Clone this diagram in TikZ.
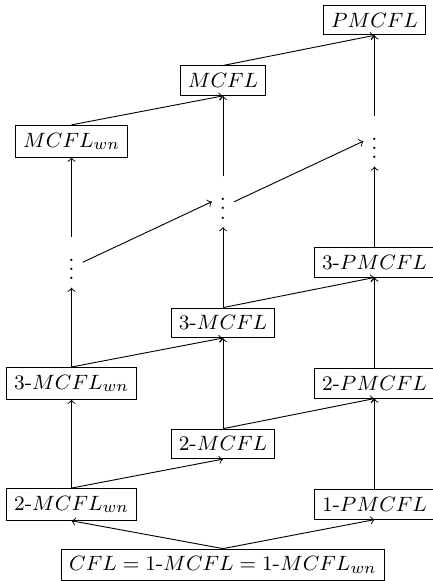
\documentclass[tikz,border=0pt]{standalone}
\usepackage{amsmath,amssymb}
\usepackage{tikz}
\usetikzlibrary{arrows}
\tikzset{
    >=to,
    langbox/.style={shape=rectangle, draw},
    vdotsnode/.style={shape=rectangle},
    font={\fontsize{9.3pt}{11}\selectfont},
}

\begin{document}
\begin{tikzpicture}
[
    x=2.315cm, y=0.925cm,
    every node/.style={langbox},
]
\useasboundingbox (-1.472,-0.265) rectangle (1.386,9.333);
\node(cfl) at (0,0){$CFL = 1\text{-}MCFL = 1\text{-}MCFL_{wn}$};
\node(wn2) at (-1,1){$2\text{-}MCFL_{wn}$};
\node(pm1) at (1,1){$1\text{-}PMCFL$};
\node(mc2) at (0,2){$2\text{-}MCFL$};
\node(wn3) at (-1,3){$3\text{-}MCFL_{wn}$};
\node(pm2) at (1,3){$2\text{-}PMCFL$};
\node(mc3) at (0,4){$3\text{-}MCFL$};
\node(pm3) at (1,5){$3\text{-}PMCFL$};
\node(wndots) at (-1,5)[draw=none, vdotsnode]{$\vdots$};
\node(mcdots) at (0,6)[draw=none, vdotsnode]{$\vdots$};
\node(pmdots) at (1,7)[draw=none, vdotsnode]{$\vdots$};
\node(wn) at (-1,7){$MCFL_{wn}$};
\node(mc) at (0,8){$MCFL$};
\node(pm) at (1,9){$PMCFL$};
\draw[->] (cfl.north) to (wn2.south);
\draw[->] (cfl.north) to (pm1.south);
\draw[->] (wn2.north) to (mc2.south);
\draw[->] (wn2.north) to (wn3.south);
\draw[->] (pm1.north) to (pm2.south);
\draw[->] (mc2.north) to (pm2.south);
\draw[->] (mc2.north) to (mc3.south);
\draw[->] (wn3.north) to (mc3.south);
\draw[->] (wn3.north) to (wndots.south);
\draw[->] (mc3.north) to (pm3.south);
\draw[->] (mc3.north) to (mcdots.south);
\draw[->] (pm2.north) to (pm3.south);
\draw[->] (pm3.north) to (pmdots.south);
\draw[->] (wndots.east) to (mcdots.west);
\draw[->] (mcdots.east) to (pmdots.west);
\draw[->] (wndots.north) to (wn.south);
\draw[->] (mcdots.north) to (mc.south);
\draw[->] (pmdots.north) to (pm.south);
\draw[->] (wn.north) to (mc.south);
\draw[->] (mc.north) to (pm.south);
\end{tikzpicture}
\end{document}
